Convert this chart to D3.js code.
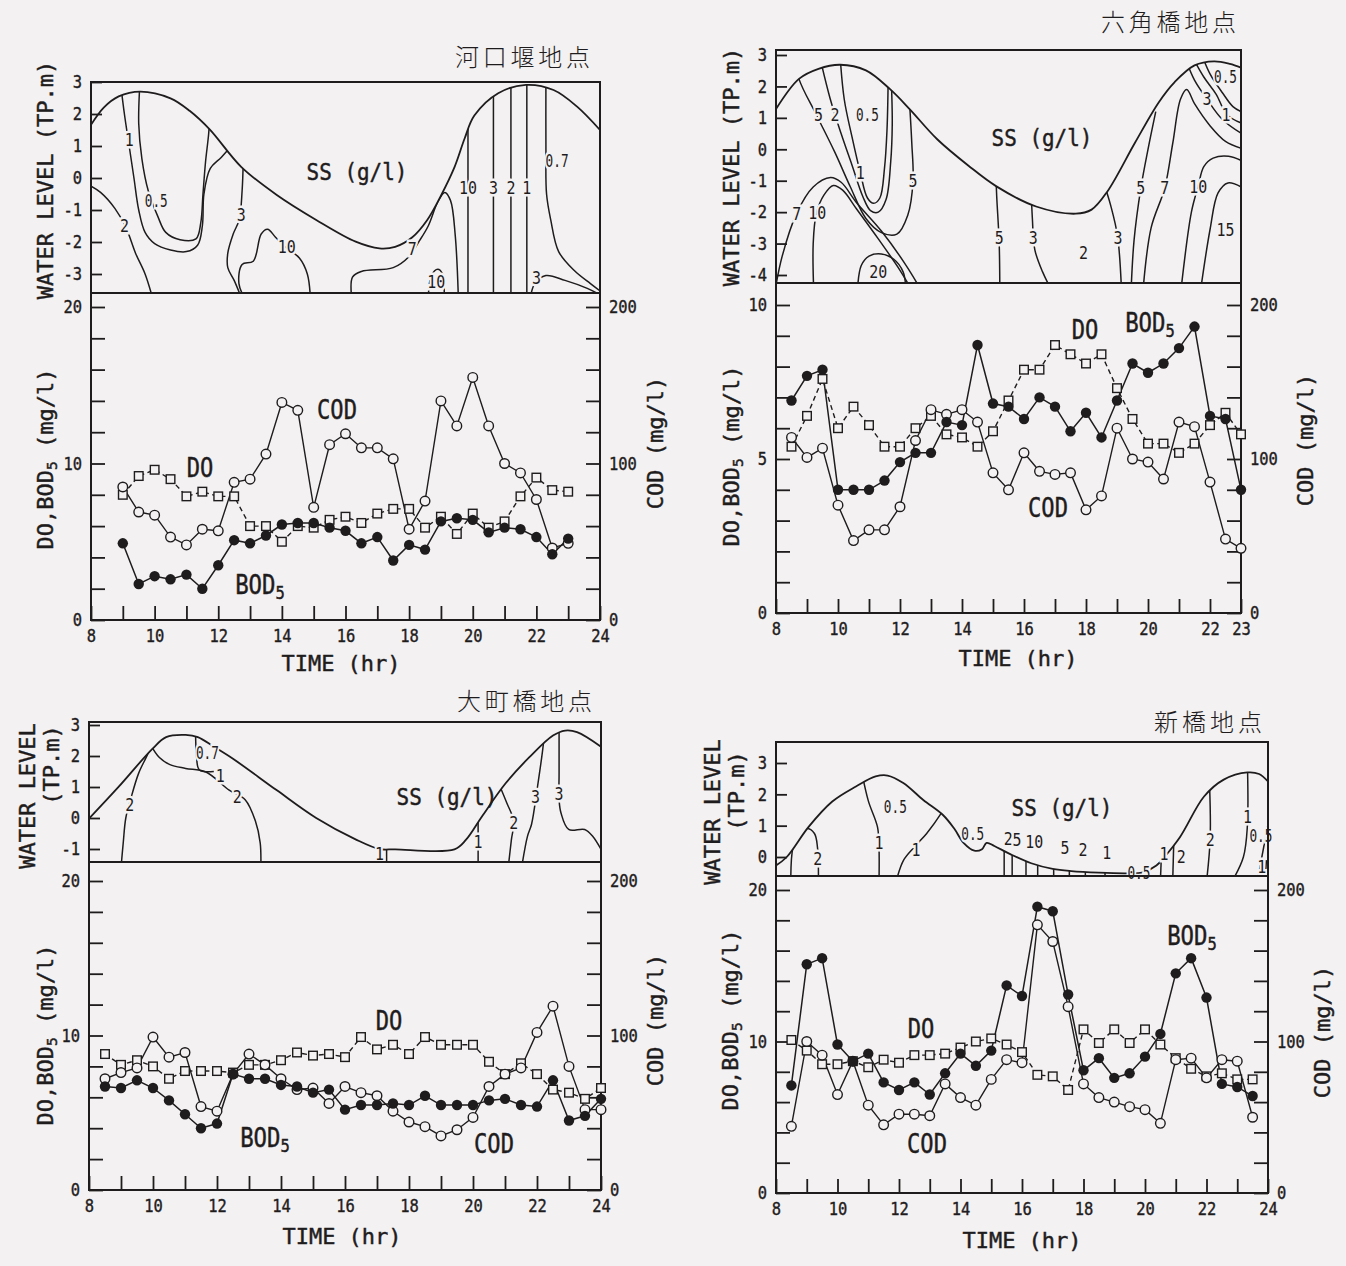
<!DOCTYPE html>
<html lang="ja">
<head>
<meta charset="utf-8">
<title>SS・DO・BOD5・COD の時間変化</title>
<script src="https://cdn.jsdelivr.net/npm/d3@7"></script>
<style>
  html, body { margin: 0; padding: 0; background: #f3f1f1; }
  svg { display: block; }
</style>
</head>
<body>
<svg id="fig" width="1346" height="1266"></svg>
<script>
// ================= 河口堰地点 =================
const kakoName = "河口堰地点";
const kakoTimes = [9,9.5,10,10.5,11,11.5,12,12.5,13,13.5,14,14.5,15,15.5,16,16.5,17,17.5,18,18.5,19,19.5,20,20.5,21,21.5,22,22.5,23];
const kakoDO  = [8.0,9.2,9.6,9.0,7.9,8.2,7.9,7.9,6.0,6.0,5.0,6.0,5.9,6.4,6.6,6.2,6.8,7.1,7.1,5.9,6.6,5.5,6.8,5.9,6.3,7.9,9.1,8.3,8.2];
const kakoBOD = [4.9,2.3,2.8,2.6,2.9,2.0,3.5,5.1,4.9,5.4,6.1,6.2,6.2,5.9,5.7,4.9,5.3,3.8,4.8,4.5,6.3,6.5,6.4,5.6,5.9,5.8,5.3,4.2,5.2];
const kakoCOD = [85,69,67,53,48,58,57,88,90,106,139,134,72,112,119,110,110,103,58,76,140,124,155,124,100,94,77,46,49];
// water level [time, TP.m]
const kakoLevel = [[8,1.66],[8.4,2.2],[8.87,2.55],[9.55,2.7],[10.5,2.49],[11.1,2.1],[11.73,1.52],[12.72,0.35],[13.84,-0.53],[15.08,-1.31],[16.32,-1.99],[17.07,-2.2],[17.56,-2.15],[18.1,-1.85],[18.57,-1.31],[19.0,-0.55],[19.43,0.35],[19.75,1.25],[20.05,1.95],[20.8,2.65],[21.67,2.91],[22.54,2.75],[23.28,2.23],[24,1.5]];
// SS isolines [time, TP.m]
const kakoContours = [
  [[7.9,-0.2],[8.3,-0.45],[8.75,-0.95],[9.1,-1.55],[9.4,-2.35],[9.7,-3.0],[9.95,-3.8]],
  [[8.9,3.2],[9.05,2.0],[9.2,1.0],[9.35,0.0],[9.5,-1.0],[9.7,-1.7],[10.0,-2.05],[10.5,-2.25],[11.0,-2.3],[11.35,-2.1],[11.5,-1.5],[11.55,-0.5],[11.75,0.3],[12.1,0.65],[12.5,1.1]],
  [[9.55,3.2],[9.5,1.7],[9.6,0.6],[9.8,-0.4],[10.1,-1.2],[10.35,-1.7],[10.8,-1.93],[11.3,-1.9],[11.45,-1.4],[11.52,-0.5],[11.6,0.5],[11.7,1.4],[11.75,2.2]],
  [[12.8,1.0],[12.78,0.3],[12.75,-0.4],[12.66,-1.3],[12.47,-1.75],[12.3,-2.35],[12.3,-2.8],[12.5,-3.2],[12.75,-3.8]],
  [[12.85,-3.8],[12.65,-3.3],[12.75,-2.7],[13.1,-2.6],[13.35,-1.75],[13.55,-1.6],[13.8,-1.85],[14.1,-2.15],[14.55,-2.5],[14.8,-3.0],[14.9,-3.8]],
  [[16.2,-3.8],[16.22,-3.1],[16.5,-2.92],[17.5,-2.8],[18.0,-2.45],[18.3,-2.0],[18.6,-1.5],[18.9,-0.75],[19.12,-0.45],[19.3,-0.7],[19.45,-1.8],[19.55,-3.8]],
  [[18.6,-3.8],[18.7,-3.05],[18.9,-2.85],[19.05,-3.0],[19.1,-3.8]],
  [[19.85,3.2],[19.85,0],[19.85,-3.8]],
  [[20.65,3.2],[20.65,-3.8]],
  [[21.2,3.2],[21.2,-3.8]],
  [[21.7,3.2],[21.7,-3.8]],
  [[22.3,3.2],[22.3,1.0],[22.32,-0.5],[22.45,-1.3],[22.7,-2.3],[23.2,-2.9],[23.7,-3.3],[24.1,-3.6]],
  [[21.8,-3.8],[21.95,-3.3],[22.3,-3.05],[22.9,-3.2],[23.6,-3.45],[24.1,-3.7]]
];
const kakoLabels = [[9.05,-1.5,"2"],[9.2,1.2,"1"],[10.05,-0.7,"0.5"],[12.72,-1.15,"3"],[14.15,-2.15,"10"],[18.1,-2.2,"7"],[18.85,-3.25,"10"],[19.85,-0.3,"10"],[20.65,-0.3,"3"],[21.2,-0.3,"2"],[21.7,-0.3,"1"],[22.65,0.55,"0.7"],[22.0,-3.1,"3"]];

// ================= 六角橋地点 =================
const rokkakuName = "六角橋地点";
const rokkakuTimes = [8.5,9,9.5,10,10.5,11,11.5,12,12.5,13,13.5,14,14.5,15,15.5,16,16.5,17,17.5,18,18.5,19,19.5,20,20.5,21,21.5,22,22.5,23];
const rokkakuDO  = [5.4,6.4,7.6,6.0,6.7,6.1,5.4,5.4,6.0,6.4,5.8,5.7,5.4,5.9,6.9,7.9,7.9,8.7,8.4,8.1,8.4,7.3,6.3,5.5,5.5,5.2,5.5,6.1,6.5,5.8];
const rokkakuBOD = [6.9,7.7,7.9,4.0,4.0,4.0,4.3,4.9,5.2,5.2,6.2,6.1,8.7,6.8,6.7,6.3,7.0,6.7,5.9,6.5,5.7,6.9,8.1,7.8,8.1,8.6,9.3,6.4,6.3,4.0];
const rokkakuCOD = [114,101,107,70,47,54,54,69,112,132,129,132,124,91,80,104,92,90,91,67,76,120,100,98,87,124,121,85,48,42];
const rokkakuLevel = [[8,1.28],[8.74,2.24],[9.37,2.56],[10.07,2.69],[10.9,2.51],[11.67,1.92],[12.31,1.28],[13.2,0.32],[14.22,-0.53],[15.11,-1.18],[16.39,-1.82],[17.67,-2.05],[18.18,-1.92],[18.69,-1.34],[19.58,0.21],[20.35,1.5],[20.86,2.14],[21.5,2.67],[22.13,2.8],[22.64,2.72],[23,2.6]];
const rokkakuContours = [
  [[7.95,-4.6],[8.2,-3.4],[8.67,-2.03],[9.2,-1.2],[9.76,-0.9],[10.1,-1.05],[10.6,-1.7],[11.4,-2.6],[12.2,-3.7],[12.75,-4.6]],
  [[9.22,-4.6],[9.2,-3.0],[9.3,-2.05],[9.55,-1.45],[9.85,-1.15],[10.15,-1.3],[10.6,-1.9],[11.3,-2.85],[12.0,-3.85],[12.45,-4.6]],
  [[10.62,-4.6],[10.75,-3.7],[11.0,-3.4],[11.4,-3.33],[11.8,-3.5],[12.1,-3.9],[12.2,-4.6]],
  [[8.55,3.2],[8.74,2.24],[9.3,1.1],[9.9,-0.1],[10.4,-1.2],[10.9,-2.2],[11.4,-2.65],[11.9,-2.7],[12.25,-2.1],[12.42,-1.0],[12.38,0.2],[12.3,1.6]],
  [[9.35,3.2],[9.75,1.6],[10.1,0.5],[10.45,-0.5],[10.8,-1.5],[11.05,-1.95],[11.3,-2.0],[11.55,-1.6],[11.7,-0.4],[11.75,0.8],[11.72,2.2]],
  [[10.05,3.2],[10.2,1.6],[10.45,0.4],[10.72,-0.75],[10.95,-1.55],[11.15,-1.72],[11.35,-1.55],[11.5,-0.6],[11.58,0.6],[11.62,2.3]],
  [[15.08,-0.5],[15.12,-1.5],[15.2,-3.0],[15.22,-4.6]],
  [[16.22,-1.0],[16.27,-2.2],[16.35,-3.2],[16.6,-3.9],[16.95,-4.6]],
  [[18.55,-1.0],[18.8,-1.8],[19.02,-2.78],[19.15,-4.6]],
  [[19.45,-4.6],[19.55,-2.9],[19.77,-1.23],[20.0,0.0],[20.25,1.2]],
  [[19.83,-4.6],[20.1,-2.5],[20.54,-1.23],[20.8,0.2],[21.05,1.6],[21.25,1.9],[21.5,1.45],[22.0,0.75],[22.5,0.25],[23.1,0.0]],
  [[21.05,-4.6],[21.4,-2.0],[21.62,-1.17],[21.8,-0.55],[22.1,-0.28],[22.6,-0.22],[23.1,-0.4]],
  [[21.68,-4.6],[22.0,-2.56],[22.26,-1.39],[22.58,-1.07],[23.1,-1.25]],
  [[21.2,2.9],[21.5,2.2],[21.9,1.6],[22.4,0.95],[23.1,0.45]],
  [[21.4,3.0],[21.8,2.3],[22.2,1.75],[22.55,1.1],[23.1,0.8]],
  [[21.7,3.1],[22.0,2.4],[22.4,1.8],[22.75,1.35],[23.1,1.15]]
];
const rokkakuLabels = [[8.67,-2.03,"7"],[9.33,-2.0,"10"],[11.3,-3.9,"20"],[9.37,1.1,"5"],[9.9,1.1,"2"],[10.95,1.1,"0.5"],[10.72,-0.75,"1"],[12.42,-1.0,"5"],[15.2,-2.8,"5"],[16.3,-2.8,"3"],[17.92,-3.3,"2"],[19.03,-2.8,"3"],[19.77,-1.23,"5"],[20.54,-1.23,"7"],[21.62,-1.17,"10"],[22.5,-2.56,"15"],[21.9,1.6,"3"],[22.52,1.1,"1"],[22.5,2.3,"0.5"]];

// ================= 大町橋地点 =================
const oomachiName = "大町橋地点";
const oomachiTimes = [8.5,9,9.5,10,10.5,11,11.5,12,12.5,13,13.5,14,14.5,15,15.5,16,16.5,17,17.5,18,18.5,19,19.5,20,20.5,21,21.5,22,22.5,23,23.5,24];
const oomachiDO  = [8.8,8.1,8.4,8.0,7.2,7.7,7.7,7.7,7.6,8.1,8.1,8.4,8.9,8.7,8.8,8.6,9.9,9.1,9.4,8.8,9.9,9.4,9.4,9.4,8.3,7.5,8.2,7.5,6.5,6.3,5.9,6.6];
const oomachiBOD = [6.7,6.6,7.1,6.6,5.8,4.9,4.0,4.3,7.5,7.2,7.2,6.8,6.7,6.3,6.5,5.2,5.5,5.5,5.6,5.5,6.1,5.5,5.5,5.5,5.8,5.9,5.5,5.4,7.1,4.5,4.8,5.9];
const oomachiCOD = [72,76,79,99,86,89,54,51,75,88,81,72,65,66,56,67,63,61,51,44,41,35,39,47,67,75,79,102,119,80,52,52];
const oomachiLevel = [[8.0,-0.02],[8.93,1.01],[9.98,2.23],[10.41,2.61],[11.02,2.68],[11.4,2.61],[11.9,2.3],[12.5,1.91],[13.86,0.9],[15.1,0.0],[16.33,-0.69],[17.07,-1.0],[17.57,-1.01],[19.42,-1.01],[19.79,-0.69],[20.28,0.05],[21.02,1.12],[21.77,1.97],[22.5,2.66],[22.88,2.82],[23.25,2.77],[24,2.3]];
const oomachiContours = [
  [[9.0,-1.6],[9.07,-0.8],[9.15,0.0],[9.3,0.6],[9.55,1.44],[9.85,2.1],[10.05,2.7]],
  [[9.9,2.4],[10.2,1.95],[10.53,1.72],[11.02,1.6],[11.64,1.49],[12.38,0.9],[12.88,0.59],[13.2,-0.1],[13.35,-0.8],[13.37,-1.6]],
  [[11.33,3.0],[11.36,2.0],[11.45,1.55],[11.9,1.5]],
  [[17.3,-0.9],[17.3,-1.6]],
  [[20.16,0.5],[20.16,-0.8],[20.16,-1.6]],
  [[20.85,1.0],[21.05,0.5],[21.27,-0.1],[21.2,-0.7],[21.1,-1.6]],
  [[21.52,-1.6],[21.7,-0.6],[21.83,-0.2],[22.0,0.9],[22.2,2.4],[22.25,3.1]],
  [[22.69,3.1],[22.69,1.44],[22.69,0.59],[22.75,0.16],[22.99,-0.37],[23.49,-0.37],[23.74,-0.59],[24.1,-1.2]]
];
const oomachiLabels = [[9.27,0.45,"2"],[12.63,0.7,"2"],[11.7,2.1,"0.7"],[12.1,1.38,"1"],[17.08,-1.15,"1"],[20.16,-0.75,"1"],[21.27,-0.15,"2"],[21.95,0.69,"3"],[22.69,0.8,"3"]];

// ================= 新橋地点 =================
const shinbashiName = "新橋地点";
const shinbashiTimes = [8.5,9,9.5,10,10.5,11,11.5,12,12.5,13,13.5,14,14.5,15,15.5,16,16.5,17,17.5,18,18.5,19,19.5,20,20.5,21,21.5,22,22.5,23,23.5];
const shinbashiDO  = [10.1,9.4,8.5,8.5,8.7,8.3,8.8,8.6,9.1,9.1,9.2,9.6,10.0,10.2,9.8,9.3,7.8,7.7,6.8,10.8,9.9,10.8,9.9,10.8,9.8,8.9,8.2,7.7,7.9,7.5,7.5];
const shinbashiBOD = [7.1,15.1,15.5,9.8,8.7,9.2,7.3,6.8,7.3,6.5,7.9,9.2,8.4,9.4,13.7,13.0,18.9,18.6,13.1,8.1,8.9,7.6,7.9,9.0,10.5,14.5,15.5,12.9,7.2,7.0,6.4];
const shinbashiCOD = [44,100,91,65,87,58,45,52,52,51,72,63,58,75,88,86,177,166,123,72,63,60,57,55,46,88,89,76,88,87,50];
const shinbashiLevel = [[8.0,-0.27],[8.35,0.0],[9.06,0.96],[9.83,1.77],[10.6,2.25],[11.24,2.57],[11.63,2.6],[12.14,2.36],[12.79,1.82],[13.43,1.34],[13.8,0.9],[14.1,0.45],[14.45,0.2],[14.7,0.25],[14.85,0.45],[15.1,0.35],[15.6,0.1],[16.3,-0.2],[17.0,-0.38],[17.6,-0.45],[18.5,-0.5],[19.4,-0.52],[19.9,-0.5],[20.37,-0.27],[20.63,0.0],[21.14,0.64],[21.92,1.93],[22.56,2.47],[23.33,2.7],[23.71,2.65],[24.0,2.41]];
const shinbashiContours = [
  [[8.48,-0.8],[8.55,0.3],[8.75,0.78],[9.0,0.92],[9.25,0.75],[9.35,0.3],[9.38,-0.8]],
  [[10.75,2.9],[11.0,1.8],[11.3,0.96],[11.35,0.3],[11.35,-0.8]],
  [[13.55,1.7],[13.37,1.39],[12.9,0.75],[12.5,0.32],[12.15,-0.1],[11.9,-0.8]],
  [[15.42,0.8],[15.42,-0.8]],
  [[15.68,0.8],[15.68,-0.8]],
  [[16.13,0.8],[16.13,-0.8]],
  [[16.51,0.8],[16.51,-0.8]],
  [[17.03,0.8],[17.03,-0.8]],
  [[17.54,0.8],[17.54,-0.8]],
  [[18.06,0.8],[18.06,-0.8]],
  [[18.7,0.8],[18.7,-0.8]],
  [[20.55,0.5],[20.5,-0.8]],
  [[20.95,1.0],[20.9,-0.8]],
  [[22.1,2.3],[22.12,0.6],[22.0,-0.8]],
  [[23.33,3.0],[23.33,1.0],[23.2,0.0],[22.82,-0.8]],
  [[24.05,1.3],[23.8,0.0],[23.65,-0.8]],
  [[23.95,-0.1],[23.9,-0.8]]
];
const shinbashiLabels = [[9.36,-0.05,"2"],[11.35,0.45,"1"],[11.88,1.6,"0.5"],[12.55,0.25,"1"],[14.4,0.75,"0.5"],[15.55,0.6,"2"],[15.84,0.55,"5"],[16.4,0.5,"10"],[17.4,0.3,"5"],[17.98,0.25,"2"],[18.76,0.15,"1"],[19.8,-0.5,"0.5"],[20.62,0.12,"1"],[21.18,0.02,"2"],[22.12,0.55,"2"],[23.33,1.3,"1"],[23.77,0.7,"0.5"],[23.8,-0.3,"1"]];

// ---------- axis ticks ----------
const hoursTo24 = [8,9,10,11,12,13,14,15,16,17,18,19,20,21,22,23,24];
const hoursTo23 = [8,9,10,11,12,13,14,15,16,17,18,19,20,21,22,23];
const hourLabels24 = [8,10,12,14,16,18,20,22,24];
const hourLabels23 = [8,10,12,14,16,18,20,22,23];
const mgTicks20 = [0,2,4,6,8,10,12,14,16,18,20];
const mgTicks10 = [0,1,2,3,4,5,6,7,8,9,10];
const mgLabels20 = [0,10,20];
const mgLabels10 = [0,5,10];
const codTicks = [0,20,40,60,80,100,120,140,160,180,200];
const codLabels = [0,100,200];

// ================= drawing =================
const INK = "#1f1c1d";
const PAPER = "#f3f1f1";
const MONO = '"DejaVu Sans Mono","Liberation Mono",monospace';
const CJK = '"Noto Sans CJK JP","Noto Sans CJK SC",sans-serif';
const svg = d3.select("#fig");
svg.append("rect").attr("width", 1346).attr("height", 1266).attr("fill", PAPER);

// width of a condensed string: narrow glyphs count less
function tw(s, cw) {
  let n = 0;
  for (const ch of s) n += (ch === "." || ch === ",") ? 0.55 : 1;
  return n * cw;
}

// slightly heavier strokes for the typewriter lettering
function ink(sel, w) {
  return sel.attr("fill", INK).attr("stroke", INK).attr("stroke-width", w || 0.45);
}

function condensed(g, x, y, s, size, cw, anchor) {
  return ink(g.append("text").attr("x", x).attr("y", y)
    .attr("font-size", size).attr("text-anchor", anchor || "middle")
    .attr("textLength", tw(s, cw)).attr("lengthAdjust", "spacingAndGlyphs")
    .text(s));
}

// rotated axis title; parts may carry a subscript
function vtitle(g, x, y, parts, size) {
  const t = ink(g.append("text").attr("transform", `translate(${x},${y}) rotate(-90)`)
    .attr("text-anchor", "middle").attr("font-size", size));
  parts.forEach(p => {
    const ts = t.append("tspan").text(p.s);
    if (p.sub) ts.attr("font-size", size * 0.66).attr("dy", size * 0.2);
    if (p.back) ts.attr("dy", -size * 0.2);
  });
  return t;
}

function styleAxis(sel) {
  sel.attr("font-family", null).attr("font-size", null);
  sel.select(".domain").remove();
  sel.selectAll(".tick line").attr("stroke", INK).attr("stroke-width", 1.8);
  ink(sel.selectAll(".tick text"), 0.4).attr("font-family", MONO).attr("font-size", 18)
    .each(function () {
      const s = this.textContent;
      if (s) d3.select(this).attr("textLength", tw(s, 9.3)).attr("lengthAdjust", "spacingAndGlyphs");
    });
}

function drawStation(L, D) {
  const g = svg.append("g").attr("font-family", MONO).attr("fill", INK);
  const x = d3.scaleLinear().domain([8, L.tMax]).range([L.x0, L.x1]);
  const yl = d3.scaleLinear().domain([L.lv[0][0], L.lv[1][0]]).range([L.lv[0][1], L.lv[1][1]]);
  const yv = d3.scaleLinear().domain([0, L.vRef[0]]).range([L.lowBot, L.vRef[1]]);
  const yc = d3.scaleLinear().domain([0, L.vRef[0] * L.codFactor]).range([L.lowBot, L.vRef[1]]);
  const smooth = d3.curveCatmullRom.alpha(0.5);

  // ---- upper panel: water level and SS isolines inside the water column ----
  const clipId = "water-" + L.id;
  g.append("clipPath").attr("id", clipId).append("path")
    .attr("d", d3.area().x(d => x(d[0])).y0(L.upBot).y1(d => yl(d[1])).curve(smooth)(D.level));
  const iso = d3.line().x(d => x(d[0])).y(d => yl(d[1])).curve(smooth);
  g.append("g").attr("clip-path", `url(#${clipId})`)
    .selectAll("path").data(D.contours).join("path")
    .attr("d", iso).attr("fill", "none").attr("stroke", INK).attr("stroke-width", 1.5);
  g.append("path").attr("d", iso(D.level)).attr("fill", "none")
    .attr("stroke", INK).attr("stroke-width", 1.8);
  // isoline values, each on a paper-coloured halo that breaks the line beneath it
  g.append("g").selectAll("text").data(D.labels).join("text")
    .attr("x", d => x(d[0])).attr("y", d => yl(d[1])).attr("dy", "0.36em")
    .attr("text-anchor", "middle").attr("font-size", 18)
    .attr("textLength", d => tw(d[2], 9)).attr("lengthAdjust", "spacingAndGlyphs")
    .attr("fill", INK).attr("stroke", PAPER).attr("stroke-width", 5).attr("paint-order", "stroke")
    .text(d => d[2]);
  condensed(g, L.ss[0], L.ss[1], "SS (g/l)", 23, 12.6);

  // ---- frames ----
  g.append("rect").attr("x", L.x0).attr("y", L.upTop)
    .attr("width", L.x1 - L.x0).attr("height", L.upBot - L.upTop)
    .attr("fill", "none").attr("stroke", INK).attr("stroke-width", 2);
  g.append("rect").attr("x", L.x0).attr("y", L.upBot)
    .attr("width", L.x1 - L.x0).attr("height", L.lowBot - L.upBot)
    .attr("fill", "none").attr("stroke", INK).attr("stroke-width", 2);

  // ---- axes ----
  g.append("g").attr("transform", `translate(${L.x0},0)`)
    .call(d3.axisLeft(yl).tickValues(L.lvTicks).tickSize(-11).tickPadding(9).tickFormat(d => String(d)))
    .call(styleAxis);
  g.append("g").attr("transform", `translate(0,${L.lowBot})`)
    .call(d3.axisBottom(x).tickValues(L.xTicks).tickSize(-14).tickPadding(9)
      .tickFormat(d => L.xLabels.includes(d) ? String(d) : ""))
    .call(styleAxis);
  g.append("g").attr("transform", `translate(${L.x0},0)`)
    .call(d3.axisLeft(yv).tickValues(L.vTicks).tickSize(-14).tickPadding(9)
      .tickFormat(d => L.vLabels.includes(d) ? String(d) : ""))
    .call(styleAxis);
  g.append("g").attr("transform", `translate(${L.x1},0)`)
    .call(d3.axisRight(yc).tickValues(codTicks).tickSize(-14).tickPadding(9)
      .tickFormat(d => codLabels.includes(d) ? String(d) : ""))
    .call(styleAxis);

  // ---- series ----
  const lineV = d3.line().x((d, i) => x(D.times[i])).y(d => yv(d));
  const lineC = d3.line().x((d, i) => x(D.times[i])).y(d => yc(d));
  g.append("path").attr("d", lineV(D.dO)).attr("fill", "none").attr("stroke", INK)
    .attr("stroke-width", 1.4).attr("stroke-dasharray", "5,3.5");
  g.append("path").attr("d", lineC(D.cod)).attr("fill", "none").attr("stroke", INK).attr("stroke-width", 1.4);
  g.append("path").attr("d", lineV(D.bod)).attr("fill", "none").attr("stroke", INK).attr("stroke-width", 1.5);

  g.append("g").selectAll("rect").data(D.dO).join("rect")
    .attr("x", (d, i) => x(D.times[i]) - 4.3).attr("y", d => yv(d) - 4.3)
    .attr("width", 8.6).attr("height", 8.6)
    .attr("fill", PAPER).attr("stroke", INK).attr("stroke-width", 1.4);
  g.append("g").selectAll("circle").data(D.cod).join("circle")
    .attr("cx", (d, i) => x(D.times[i])).attr("cy", d => yc(d)).attr("r", 4.8)
    .attr("fill", PAPER).attr("stroke", INK).attr("stroke-width", 1.4);
  g.append("g").selectAll("circle").data(D.bod).join("circle")
    .attr("cx", (d, i) => x(D.times[i])).attr("cy", d => yv(d)).attr("r", 5.2)
    .attr("fill", INK);

  // ---- series names ----
  condensed(g, L.doLbl[0], L.doLbl[1], "DO", 26, 13.3);
  condensed(g, L.codLbl[0], L.codLbl[1], "COD", 26, 13.3);
  // BOD5: one text, narrowed by a horizontal scale so the subscript sits right after the D
  const bod = ink(g.append("text")
    .attr("transform", `translate(${L.bodLbl[0]},${L.bodLbl[1]}) scale(0.86,1)`)
    .attr("font-size", 26).attr("text-anchor", "middle"));
  bod.append("tspan").text("BOD");
  bod.append("tspan").attr("font-size", 18).attr("dy", 5).text("5");

  // ---- titles ----
  g.append("text").attr("x", L.title[0]).attr("y", L.title[1]).attr("text-anchor", "end")
    .attr("font-family", CJK).attr("font-size", 24).attr("font-weight", 300).attr("fill", INK)
    .attr("textLength", D.name.length * 27).attr("lengthAdjust", "spacing")
    .text(D.name);
  L.wl.forEach(w => vtitle(g, w[0], w[1], [{ s: w[2] }], 22));
  vtitle(g, L.doTitle[0], L.doTitle[1], [{ s: "DO,BOD" }, { s: "5", sub: true }, { s: " (mg/l)", back: true }], 22);
  vtitle(g, L.codTitle[0], L.codTitle[1], [{ s: "COD (mg/l)" }], 22);
  ink(g.append("text").attr("x", L.time[0]).attr("y", L.time[1]).attr("text-anchor", "middle")
    .attr("font-size", 22).text("TIME (hr)"));
}

drawStation({
  id: "kako", x0: 91, x1: 600, tMax: 24,
  upTop: 82, upBot: 293, lv: [[3, 82], [-3, 274]], lvTicks: [3, 2, 1, 0, -1, -2, -3],
  lowBot: 620, vRef: [20, 307], codFactor: 10,
  xTicks: hoursTo24, xLabels: hourLabels24, vTicks: mgTicks20, vLabels: mgLabels20,
  title: [590, 66], ss: [357, 180],
  wl: [[53, 180, "WATER LEVEL (TP.m)"]], doTitle: [53, 459], codTitle: [663, 443], time: [341, 671],
  doLbl: [200, 477], codLbl: [337, 419], bodLbl: [260, 594]
}, { name: kakoName, times: kakoTimes, dO: kakoDO, bod: kakoBOD, cod: kakoCOD,
     level: kakoLevel, contours: kakoContours, labels: kakoLabels });

drawStation({
  id: "rokkaku", x0: 776, x1: 1241, tMax: 23,
  upTop: 50, upBot: 283, lv: [[3, 55], [-4, 275]], lvTicks: [3, 2, 1, 0, -1, -2, -3, -4],
  lowBot: 613, vRef: [10, 305], codFactor: 20,
  xTicks: hoursTo23, xLabels: hourLabels23, vTicks: mgTicks10, vLabels: mgLabels10,
  title: [1236, 31], ss: [1042, 146],
  wl: [[739, 167, "WATER LEVEL (TP.m)"]], doTitle: [739, 456], codTitle: [1313, 440], time: [1018, 666],
  doLbl: [1085, 339], codLbl: [1048, 517], bodLbl: [1150, 332]
}, { name: rokkakuName, times: rokkakuTimes, dO: rokkakuDO, bod: rokkakuBOD, cod: rokkakuCOD,
     level: rokkakuLevel, contours: rokkakuContours, labels: rokkakuLabels });

drawStation({
  id: "oomachi", x0: 89, x1: 601, tMax: 24,
  upTop: 722, upBot: 862, lv: [[3, 725], [-1, 849]], lvTicks: [3, 2, 1, 0, -1],
  lowBot: 1190, vRef: [20, 881], codFactor: 10,
  xTicks: hoursTo24, xLabels: hourLabels24, vTicks: mgTicks20, vLabels: mgLabels20,
  title: [592, 710], ss: [447, 805],
  wl: [[35, 796, "WATER LEVEL"], [59, 765, "(TP.m)"]], doTitle: [53, 1035], codTitle: [663, 1020], time: [342, 1244],
  doLbl: [389, 1030], codLbl: [494, 1153], bodLbl: [265, 1147]
}, { name: oomachiName, times: oomachiTimes, dO: oomachiDO, bod: oomachiBOD, cod: oomachiCOD,
     level: oomachiLevel, contours: oomachiContours, labels: oomachiLabels });

drawStation({
  id: "shinbashi", x0: 776, x1: 1268, tMax: 24,
  upTop: 742, upBot: 876, lv: [[3, 763], [0, 857]], lvTicks: [3, 2, 1, 0],
  lowBot: 1193, vRef: [20, 890], codFactor: 10,
  xTicks: hoursTo24, xLabels: hourLabels24, vTicks: mgTicks20, vLabels: mgLabels20,
  title: [1262, 731], ss: [1062, 816],
  wl: [[720, 812, "WATER LEVEL"], [744, 791, "(TP.m)"]], doTitle: [738, 1020], codTitle: [1330, 1032], time: [1022, 1248],
  doLbl: [921, 1038], codLbl: [927, 1153], bodLbl: [1192, 945]
}, { name: shinbashiName, times: shinbashiTimes, dO: shinbashiDO, bod: shinbashiBOD, cod: shinbashiCOD,
     level: shinbashiLevel, contours: shinbashiContours, labels: shinbashiLabels });
</script>
</body>
</html>
